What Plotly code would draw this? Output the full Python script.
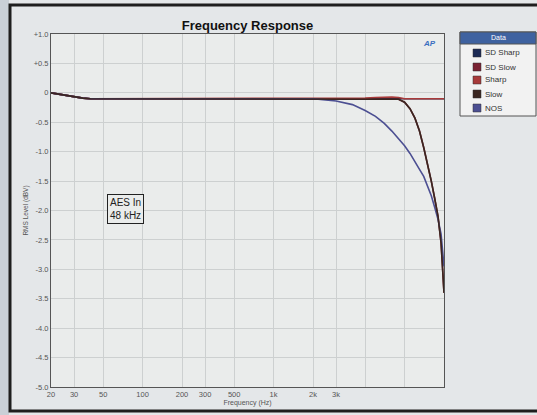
import plotly.graph_objects as go

# ---- data ----
freq = [20, 25, 30, 35, 40, 50, 70, 100, 200, 500, 1000, 2000, 2500, 3000, 4000,
        5000, 6000, 7000, 8000, 9000, 10000, 11000, 12000, 13000, 14000, 15000,
        16000, 17000, 18000, 19000, 20000]

sd_sharp = [0.0, -0.04, -0.07, -0.09, -0.1, -0.1, -0.1, -0.1, -0.1, -0.1, -0.1, -0.1, -0.1, -0.1, -0.1,
            -0.1, -0.1, -0.1, -0.1, -0.1, -0.1, -0.1, -0.1, -0.1, -0.1, -0.1,
            -0.1, -0.1, -0.1, -0.1, -0.1]
sd_slow = [0.0, -0.04, -0.07, -0.09, -0.1, -0.1, -0.1, -0.1, -0.1, -0.1, -0.1, -0.1, -0.1, -0.1, -0.1,
           -0.1, -0.1, -0.1, -0.1, -0.11, -0.16, -0.27, -0.43, -0.65, -0.93, -1.2,
           -1.5, -1.8, -2.1, -2.55, -3.4]
sharp = [0.0, -0.04, -0.07, -0.09, -0.1, -0.1, -0.1, -0.1, -0.1, -0.1, -0.1, -0.1, -0.1, -0.1, -0.1,
         -0.09, -0.08, -0.07, -0.07, -0.08, -0.1, -0.1, -0.1, -0.1, -0.1, -0.1,
         -0.1, -0.1, -0.1, -0.1, -0.1]
slow = [0.0, -0.04, -0.07, -0.09, -0.1, -0.1, -0.1, -0.1, -0.1, -0.1, -0.1, -0.1, -0.1, -0.1, -0.1,
        -0.1, -0.1, -0.1, -0.1, -0.11, -0.16, -0.27, -0.43, -0.65, -0.93, -1.2,
        -1.5, -1.8, -2.1, -2.55, -3.4]
nos = [0.0, -0.04, -0.07, -0.09, -0.1, -0.1, -0.1, -0.1, -0.1, -0.1, -0.1, -0.1, -0.12, -0.14, -0.2,
       -0.3, -0.4, -0.52, -0.65, -0.78, -0.9, -1.03, -1.16, -1.3, -1.42, -1.58,
       -1.75, -1.95, -2.15, -2.4, -2.95]

series_names = ["SD Sharp", "SD Slow", "Sharp", "Slow", "NOS"]
series_values = [sd_sharp, sd_slow, sharp, slow, nos]
series_colors = ["#1c2a55", "#7a2233", "#a83a3a", "#3a2620", "#4c4f92"]

x_tickvals = [20, 30, 50, 100, 200, 300, 500, 1000, 2000, 3000, 5000, 10000]
x_ticktext = ["20", "30", "50", "100", "200", "300", "500", "1k", "2k", "3k", "", ""]
y_tickvals = [1.0, 0.5, 0, -0.5, -1.0, -1.5, -2.0, -2.5, -3.0, -3.5, -4.0, -4.5, -5.0]
y_ticktext = ["+1.0", "+0.5", "0", "-0.5", "-1.0", "-1.5", "-2.0", "-2.5", "-3.0",
              "-3.5", "-4.0", "-4.5", "-5.0"]

# ---- layout geometry (pixels) ----
W, H = 537, 415
L, R, T, B = 51, 444, 34, 387


def px(x):
    return (x - L) / (R - L)


def py(y):
    return (B - y) / (B - T)


fig = go.Figure()
draw_order = [0, 1, 2, 4, 3]
for i in draw_order:
    fig.add_trace(go.Scatter(x=freq, y=series_values[i], mode="lines", name=series_names[i],
                             line=dict(color=series_colors[i], width=1.6), showlegend=False))

font_family = "Liberation Sans, Arial, sans-serif"

fig.update_layout(
    width=W, height=H,
    margin=dict(l=L, r=W - R, t=T, b=H - B),
    paper_bgcolor="#e4e7e9",
    plot_bgcolor="#eaeceb",
    font=dict(family=font_family, color="#444"),
    title=dict(text="<b>Frequency Response</b>", x=(L + R) / 2 / W, xanchor="center",
               y=1 - 25 / H, yanchor="middle", font=dict(size=13, color="#111")),
    showlegend=False,
)

fig.update_xaxes(type="log", range=[1.30103, 4.30103], tickvals=x_tickvals, ticktext=x_ticktext,
                 showgrid=True, gridcolor="#cdd0d0", gridwidth=1, showline=True, linecolor="#555",
                 linewidth=1, mirror=True, ticks="", tickfont=dict(size=7.5, color="#555"),
                 title=dict(text="Frequency (Hz)", font=dict(size=7, color="#555"), standoff=2),
                 zeroline=False, automargin=False)
fig.update_yaxes(range=[-5, 1], tickvals=y_tickvals, ticktext=y_ticktext,
                 showgrid=True, gridcolor="#cdd0d0", gridwidth=1, showline=True, linecolor="#555",
                 linewidth=1, mirror=True, ticks="", tickfont=dict(size=7.5, color="#555"),
                 title=dict(text="RMS Level (dBV)", font=dict(size=6.5, color="#555"), standoff=4),
                 zeroline=False, automargin=False)

shapes = []
annotations = []

# left outside-of-frame strip
shapes.append(dict(type="rect", xref="paper", yref="paper", x0=px(-5), x1=px(9), y0=py(-5), y1=py(420),
                   fillcolor="#c9d0d7", line=dict(width=0), layer="below"))
# outer frame
shapes.append(dict(type="rect", xref="paper", yref="paper", x0=px(10), x1=px(560), y0=py(5), y1=py(411),
                   line=dict(color="#1e1e1e", width=3)))

# AES In box
annotations.append(dict(xref="paper", yref="paper", x=px(107), y=py(209), xanchor="left", yanchor="middle",
                        text="AES In<br>48 kHz", showarrow=False, align="left",
                        font=dict(size=10, color="#222", family=font_family),
                        bordercolor="#222", borderwidth=1, borderpad=2, bgcolor="#eaeceb"))

# AP logo
annotations.append(dict(xref="paper", yref="paper", x=px(429), y=py(44), xanchor="center", yanchor="middle",
                        text="<b><i>AP</i></b>", showarrow=False,
                        font=dict(size=8, color="#3a6fc0", family=font_family)))

# legend box
lx0, lx1, ly0, ly1 = 460, 536, 32, 116
shapes.append(dict(type="rect", xref="paper", yref="paper", x0=px(lx0), x1=px(lx1), y0=py(ly0), y1=py(ly1),
                   fillcolor="#f2f2f2", line=dict(color="#555", width=1)))
shapes.append(dict(type="rect", xref="paper", yref="paper", x0=px(lx0), x1=px(lx1), y0=py(ly0), y1=py(44),
                   fillcolor="#3f62a0", line=dict(color="#555", width=1)))
annotations.append(dict(xref="paper", yref="paper", x=px((lx0 + lx1) / 2), y=py(38), xanchor="center",
                        yanchor="middle", text="Data", showarrow=False,
                        font=dict(size=7, color="#ffffff", family=font_family)))
row_y = [53, 67, 80, 94, 108]
for name, color, ry in zip(series_names, series_colors, row_y):
    shapes.append(dict(type="rect", xref="paper", yref="paper", x0=px(473), x1=px(481),
                       y0=py(ry - 4), y1=py(ry + 4), fillcolor=color, line=dict(color="#333", width=0.5)))
    annotations.append(dict(xref="paper", yref="paper", x=px(483), y=py(ry), xanchor="left", yanchor="middle",
                            text=name, showarrow=False, font=dict(size=8, color="#333", family=font_family)))

fig.update_layout(shapes=shapes, annotations=annotations)

fig.write_html("out.html", config={"displayModeBar": False},
               post_script="document.body.style.margin='0';document.body.style.overflow='hidden';")
